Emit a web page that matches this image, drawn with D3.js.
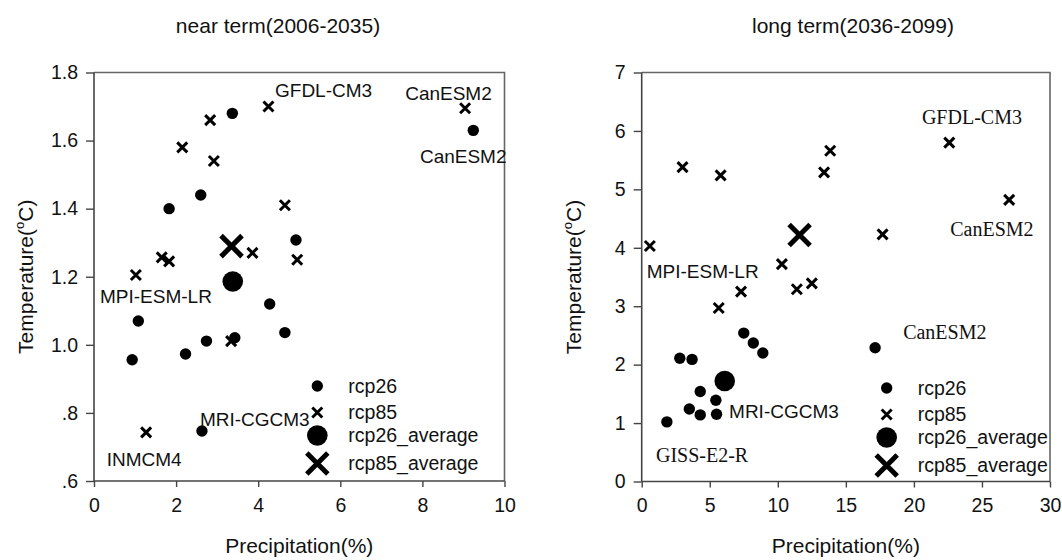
<!DOCTYPE html>
<html><head><meta charset="utf-8">
<script src="https://cdn.jsdelivr.net/npm/d3@7"></script>
<style>
body{margin:0;background:#fff;}
text{font-family:"Liberation Sans",Arial,sans-serif;fill:#111;}
.serif{font-family:"Liberation Serif","Times New Roman",serif;}
</style></head>
<body><svg id="c" width="1062" height="560"></svg>
<script>
// ---- Data ----
// near term (2006-2035): [precipitation %, temperature °C]
const nearRcp26 = [[3.37,1.68],[2.6,1.44],[1.83,1.40],[9.24,1.63],[4.92,1.308],[4.28,1.12],[1.08,1.07],[4.65,1.036],[2.74,1.011],[3.43,1.021],[0.93,0.956],[2.23,0.973],[2.63,0.747]];
const nearRcp85 = [[2.83,1.66],[4.25,1.70],[2.15,1.58],[2.92,1.54],[4.65,1.41],[3.86,1.27],[1.65,1.257],[1.83,1.245],[1.02,1.205],[3.34,1.011],[1.27,0.743],[9.04,1.695],[4.95,1.25]];
const nearRcp26Avg = [3.38,1.186];
const nearRcp85Avg = [3.35,1.29];
// long term (2036-2099)
const longRcp26 = [[7.5,2.54],[8.2,2.37],[8.9,2.2],[2.8,2.11],[3.7,2.09],[4.3,1.54],[5.45,1.39],[3.5,1.24],[4.3,1.14],[5.5,1.15],[1.85,1.02],[17.15,2.29]];
const longRcp85 = [[0.6,4.03],[3.0,5.38],[5.8,5.24],[13.85,5.66],[13.4,5.29],[10.3,3.72],[7.3,3.25],[11.4,3.29],[12.5,3.39],[5.66,2.97],[22.6,5.8],[27.0,4.82],[17.7,4.23]];
const longRcp26Avg = [6.1,1.72];
const longRcp85Avg = [11.6,4.22];
// tick labels
const nearXTicks = [0,2,4,6,8,10];
const nearYTicks = [0.6,0.8,1.0,1.2,1.4,1.6,1.8];
const nearYLabels = [".6",".8","1.0","1.2","1.4","1.6","1.8"];
const longXTicks = [0,5,10,15,20,25,30];
const longYTicks = [0,1,2,3,4,5,6,7];
// model annotations: [label, x, y (data units, text start/baseline), serif?]
const nearNotes = [["GFDL-CM3",4.41,1.728,false],["CanESM2",7.58,1.719,false],["CanESM2",7.94,1.533,false],["MPI-ESM-LR",0.146,1.124,false],["INMCM4",0.31,0.645,false],["MRI-CGCM3",2.58,0.763,false]];
const longNotes = [["GFDL-CM3",20.59,6.12,true],["CanESM2",22.67,4.20,true],["CanESM2",19.21,2.44,true],["MPI-ESM-LR",0.37,3.48,false],["MRI-CGCM3",6.42,1.09,false],["GISS-E2-R",1.05,0.34,true]];
const legendLabels = ["rcp26","rcp85","rcp26_average","rcp85_average"];

const svg = d3.select("#c");
const TICK_FS = 19.5, LEG_FS = 19.5, NOTE_FS = 19, SERIF_FS = 20, TITLE_FS = 21;

function cross(g, cx, cy, h, sw){
  g.append("path").attr("d",`M${cx-h},${cy-h}L${cx+h},${cy+h}M${cx-h},${cy+h}L${cx+h},${cy-h}`)
   .attr("stroke","#000").attr("stroke-width",sw).attr("fill","none");
}

function panel(opt){
  const {left,top,w,h,xDom,yDom,xTicks,yTicks,yLabels,r26,r85,a26,a85,notes,title,titleX,legX,legOff} = opt;
  const g = svg.append("g");
  const x = d3.scaleLinear().domain(xDom).range([left,left+w]);
  const y = d3.scaleLinear().domain(yDom).range([top+h,top]);
  // frame (top/right)
  g.append("path").attr("d",`M${left},${top}H${left+w}V${top+h}`).attr("fill","none").attr("stroke","#666").attr("stroke-width",1.6);
  // axes
  const ya = d3.axisLeft(y).tickValues(yTicks).tickSize(8).tickPadding(8)
    .tickFormat((d,i)=> yLabels ? yLabels[i] : d3.format("d")(d));
  const yg = g.append("g").attr("transform",`translate(${left},0)`).call(ya);
  const xa = d3.axisBottom(x).tickValues(xTicks).tickSize(6).tickPadding(11).tickFormat(d3.format("d"));
  const xg = g.append("g").attr("transform",`translate(0,${top+h})`).call(xa);
  [yg,xg].forEach(a=>{
    a.select(".domain").attr("stroke","#444").attr("stroke-width",1.6);
    a.selectAll(".tick line").attr("stroke","#444").attr("stroke-width",1.4);
    a.selectAll("text").attr("font-size",TICK_FS).attr("font-family","Liberation Sans, Arial, sans-serif").attr("fill","#111");
  });
  yg.select(".domain").attr("d",`M0,${top}V${top+h}`);
  xg.select(".domain").attr("d",`M${left},0H${left+w}`);
  // titles
  g.append("text").attr("x",titleX).attr("y",33).attr("text-anchor","middle").attr("font-size",TITLE_FS).text(title);
  g.append("text").attr("x",(left+left+w)/2).attr("y",553).attr("text-anchor","middle").attr("font-size",TITLE_FS).text("Precipitation(%)");
  const yt = g.append("text").attr("transform",`translate(${left-61},${top+h/2}) rotate(-90)`).attr("text-anchor","middle").attr("font-size",TITLE_FS);
  yt.append("tspan").text("Temperature(");
  yt.append("tspan").attr("font-size",13).attr("dy",-9).text("o");
  yt.append("tspan").attr("dy",9).text("C)");
  // points
  r26.forEach(d=> g.append("circle").attr("cx",x(d[0])).attr("cy",y(d[1])).attr("r",5.7).attr("fill","#000"));
  r85.forEach(d=> cross(g,x(d[0]),y(d[1]),5,3));
  g.append("circle").attr("cx",x(a26[0])).attr("cy",y(a26[1])).attr("r",10.3).attr("fill","#000");
  cross(g,x(a85[0]),y(a85[1]),10.5,5);
  // annotations
  notes.forEach(n=> g.append("text").attr("x",x(n[1])).attr("y",y(n[2])).attr("font-size",n[3]?SERIF_FS:NOTE_FS)
    .attr("class",n[3]?"serif":null).text(n[0]));
  // legend
  const lx = left + w*legX;
  const rows = [313.5,340,363,391].map(v=>top+v+legOff);
  g.append("circle").attr("cx",lx).attr("cy",rows[0]).attr("r",5.7).attr("fill","#000");
  cross(g,lx,rows[1],5,3);
  g.append("circle").attr("cx",lx).attr("cy",rows[2]).attr("r",10.3).attr("fill","#000");
  cross(g,lx,rows[3],10.5,5);
  legendLabels.forEach((t,i)=> g.append("text").attr("x",lx+31).attr("y",rows[i]+6.5).attr("font-size",LEG_FS).text(t));
}

panel({left:94,top:72.5,w:410.5,h:408.5,xDom:[0,10],yDom:[0.6,1.8],xTicks:nearXTicks,yTicks:nearYTicks,yLabels:nearYLabels,
  r26:nearRcp26,r85:nearRcp85,a26:nearRcp26Avg,a85:nearRcp85Avg,notes:nearNotes,title:"near term(2006-2035)",titleX:278,legX:0.544,legOff:0});
panel({left:641.7,top:72.5,w:408.3,h:409,xDom:[0,30],yDom:[0,7],xTicks:longXTicks,yTicks:longYTicks,yLabels:null,
  r26:longRcp26,r85:longRcp85,a26:longRcp26Avg,a85:longRcp85Avg,notes:longNotes,title:"long term(2036-2099)",titleX:853,legX:0.60,legOff:2});
</script></body></html>
